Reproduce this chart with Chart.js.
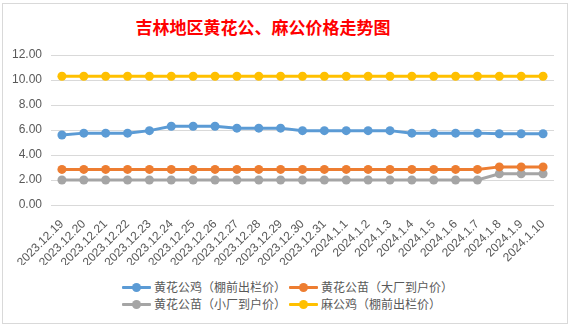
<!DOCTYPE html>
<html>
<head>
<meta charset="utf-8">
<script src="https://cdn.jsdelivr.net/npm/chart.js@4"></script>
<style>
  body { margin: 0; background: #fff; width: 571px; height: 327px; overflow: hidden; }
  #box { position: absolute; left: 2px; top: 3px; width: 564px; height: 319px; border: 1px solid #d9d9d9; background: #fff; }
  #titulo { position: absolute; left: 0; width: 520px; top: 10px; text-align: center;
    font: bold 17px "Noto Sans CJK SC", sans-serif; color: #ff0000; }
  #grafico { position: absolute; left: 0; top: 0; }
  .leg { position: absolute; font: 12px "Noto Sans CJK SC", sans-serif; color: #595959; white-space: nowrap; line-height: 14px; }
  .leg i { position: absolute; left: -32px; top: 6px; width: 29px; height: 3px; border-radius: 1px; }
  .leg i::after { content: ""; position: absolute; left: 10px; top: -3px; width: 9px; height: 9px; border-radius: 50%; background: inherit; }
</style>
</head>
<body>
<div id="box">
  <div id="titulo">吉林地区黄花公、麻公价格走势图</div>
  <canvas id="grafico" width="564" height="261"></canvas>
  <div id="legenda"></div>
</div>
<script>
// Categorias (datas)
const datas = [
  "2023.12.19", "2023.12.20", "2023.12.21", "2023.12.22", "2023.12.23",
  "2023.12.24", "2023.12.25", "2023.12.26", "2023.12.27", "2023.12.28",
  "2023.12.29", "2023.12.30", "2023.12.31", "2024.1.1", "2024.1.2",
  "2024.1.3", "2024.1.4", "2024.1.5", "2024.1.6", "2024.1.7",
  "2024.1.8", "2024.1.9", "2024.1.10",
];

// Séries
const nomes = ["黄花公鸡（棚前出栏价）", "黄花公苗（大厂到户价）", "黄花公苗（小厂到户价）", "麻公鸡（棚前出栏价）"];
const gongji = [5.6, 5.75, 5.75, 5.75, 5.95, 6.3, 6.3, 6.3, 6.15, 6.15, 6.15, 5.95, 5.95, 5.95, 5.95, 5.95, 5.75, 5.75, 5.75, 5.75, 5.7, 5.7, 5.7];
const miaoDa = [2.85, 2.85, 2.85, 2.85, 2.85, 2.85, 2.85, 2.85, 2.85, 2.85, 2.85, 2.85, 2.85, 2.85, 2.85, 2.85, 2.85, 2.85, 2.85, 2.85, 3.05, 3.05, 3.05];
const miaoXiao = [2.0, 2.0, 2.0, 2.0, 2.0, 2.0, 2.0, 2.0, 2.0, 2.0, 2.0, 2.0, 2.0, 2.0, 2.0, 2.0, 2.0, 2.0, 2.0, 2.0, 2.5, 2.5, 2.5];
const magong = [10.3, 10.3, 10.3, 10.3, 10.3, 10.3, 10.3, 10.3, 10.3, 10.3, 10.3, 10.3, 10.3, 10.3, 10.3, 10.3, 10.3, 10.3, 10.3, 10.3, 10.3, 10.3, 10.3];

// Eixo Y
const yMin = 0, yMax = 12, yPasso = 2;

const cores = ["#5b9bd5", "#ed7d31", "#a5a5a5", "#ffc000"];
const valores = [gongji, miaoDa, miaoXiao, magong];

function serie(i) {
  return {
    label: nomes[i],
    data: valores[i],
    borderColor: cores[i],
    backgroundColor: cores[i],
    borderWidth: 3,
    pointRadius: 4.5,
    pointBorderWidth: 0,
    pointHoverRadius: 4.5,
    tension: 0,
  };
}

const ctx = document.getElementById("grafico").getContext("2d");
new Chart(ctx, {
  type: "line",
  data: { labels: datas, datasets: [serie(0), serie(1), serie(2), serie(3)] },
  options: {
    responsive: false,
    animation: false,
    layout: { padding: { left: 0, right: 13, top: 51, bottom: 0 } },
    plugins: { legend: { display: false }, title: { display: false }, tooltip: { enabled: false } },
    scales: {
      x: {
        offset: true,
        grid: { display: false },
        border: { display: false },
        ticks: {
          autoSkip: false, minRotation: 45, maxRotation: 45, padding: 4,
          color: "#595959", font: { family: "Liberation Sans", size: 12 },
        },
        afterFit: (s) => { s.height = 60; },
      },
      y: {
        min: yMin, max: yMax,
        grid: { color: "#d9d9d9", lineWidth: 1, drawTicks: false },
        border: { display: false },
        ticks: {
          stepSize: yPasso, padding: 9, color: "#595959",
          font: { family: "Liberation Sans", size: 12 },
          callback: (v) => v.toFixed(2),
        },
        afterFit: (s) => { s.width = 48; },
      },
    },
  },
});

// Legenda em duas colunas
const posLeg = [[151, 276], [318, 276], [151, 293], [318, 293]];
const legenda = document.getElementById("legenda");
nomes.forEach((n, i) => {
  const d = document.createElement("div");
  d.className = "leg";
  d.style.left = posLeg[i][0] + "px";
  d.style.top = posLeg[i][1] + "px";
  d.innerHTML = '<i style="background:' + cores[i] + '"></i>' + n;
  legenda.appendChild(d);
});
</script>
</body>
</html>
